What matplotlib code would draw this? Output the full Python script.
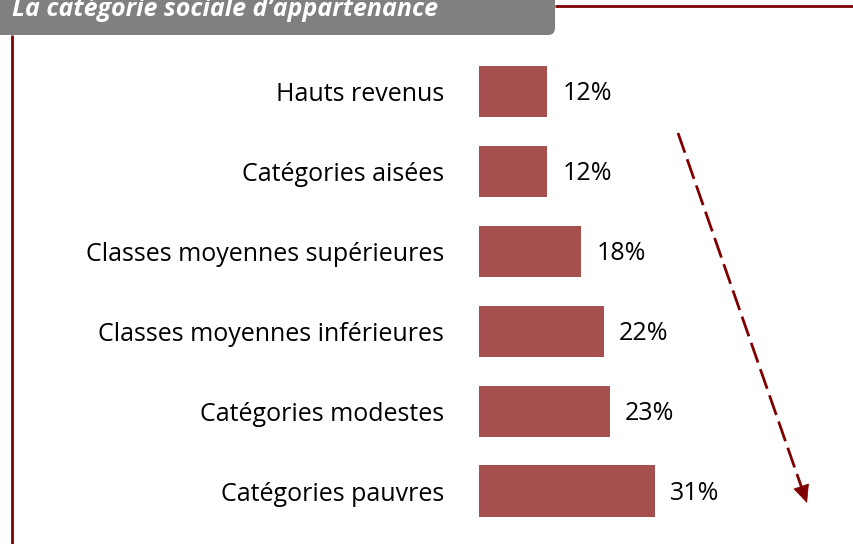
import matplotlib
matplotlib.use('Agg')
import matplotlib.pyplot as plt
from matplotlib.patches import FancyBboxPatch
from matplotlib.lines import Line2D
from matplotlib.transforms import IdentityTransform
import numpy as np

categories = ["Hauts revenus", "Catégories aisées", "Classes moyennes supérieures",
              "Classes moyennes inférieures", "Catégories modestes", "Catégories pauvres"]
values = [12, 12, 18, 22, 23, 31]
value_labels = ["12%", "12%", "18%", "22%", "23%", "31%"]
title = "La catégorie sociale d’appartenance"

W, H = 854, 544
BAR = '#A54F4E'
DARK = '#800000'
FONT = 'Open Sans'

fig = plt.figure(figsize=(W / 100, H / 100), dpi=100)
fig.patch.set_facecolor('white')

# axes placed in pixel terms
left_px, top_px, bot_px = 479, 51.5, 531
ax = fig.add_axes([left_px / W, (H - bot_px) / H, (W - left_px) / W, (bot_px - top_px) / H])
ypos = np.arange(len(categories))
ax.barh(ypos, values, height=0.64, color=BAR)
ax.set_xlim(0, (W - left_px) / 5.675)
ax.set_ylim(len(categories) - 0.5, -0.5)
ax.set_yticks(ypos)
ax.set_yticklabels(categories, fontsize=18, family=FONT, color='black')
ax.tick_params(axis='y', length=0, pad=25)
ax.set_xticks([])
for s in ax.spines.values():
    s.set_visible(False)
ax.set_facecolor('none')
for y, v, lab in zip(ypos, values, value_labels):
    ax.annotate(lab, xy=(v, y), xytext=(11, -6.5), textcoords='offset points',
                ha='left', va='baseline', fontsize=18, family=FONT, color='black')

# title box (display pixels, y from bottom)
box = FancyBboxPatch((-30, H - 35), 555 + 30, 80,
                     boxstyle='round,pad=0,rounding_size=7',
                     transform=IdentityTransform(), facecolor='#808080',
                     edgecolor='none', zorder=5)
fig.patches.append(box)
fig.text(12 / W, 1 - 16 / H, title, color='white', fontstyle='italic', fontweight='bold',
         family=FONT, fontsize=18, va='baseline', ha='left', zorder=6)

# frame lines
fig.add_artist(Line2D([555 / W, 1], [1 - 6 / H, 1 - 6 / H], transform=fig.transFigure,
                      color=DARK, lw=2, solid_capstyle='butt'))
fig.add_artist(Line2D([12.3 / W, 12.3 / W], [0, 1 - 35 / H], transform=fig.transFigure,
                      color=DARK, lw=2, solid_capstyle='butt'))

# dashed arrow
x0, y0 = 678, H - 133
x1, y1 = 807, H - 503
d = np.array([x1 - x0, y1 - y0], dtype=float)
u = d / np.linalg.norm(d)
hl = 17
bx, by = x1 - hl * u[0], y1 - hl * u[1]
fig.add_artist(Line2D([x0 / W, bx / W], [y0 / H, by / H], transform=fig.transFigure,
                      color=DARK, lw=2, linestyle=(0, (7.5, 2.5)), dash_capstyle='butt'))
ax.annotate('', xy=(x1, y1), xytext=(x1 - (hl + 1) * u[0], y1 - (hl + 1) * u[1]),
            xycoords='figure pixels', textcoords='figure pixels',
            arrowprops=dict(arrowstyle='-|>,head_length=12,head_width=5.5', mutation_scale=1,
                            color=DARK, lw=0.5, shrinkA=0, shrinkB=0), annotation_clip=False)

fig.savefig('out.png', dpi=100, facecolor='white')
